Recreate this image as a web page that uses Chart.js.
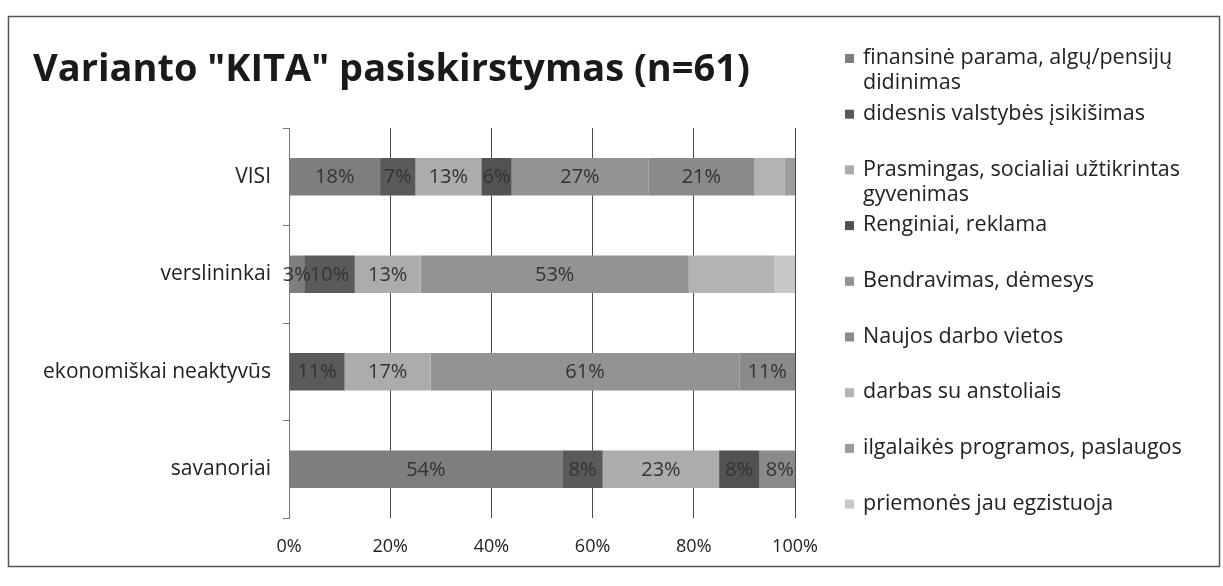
<!DOCTYPE html>
<html>
<head>
<meta charset="utf-8">
<script src="https://cdn.jsdelivr.net/npm/chart.js@4.4.0/dist/chart.umd.min.js"></script>
<style>
  html, body { margin: 0; padding: 0; background: #fff; }
  #wrap { width: 1223px; height: 586px; position: relative; }
</style>
</head>
<body>
<div id="wrap"><canvas id="kitaChart"></canvas></div>
<script>
// Kategorijos (iš viršaus į apačią)
const categories = ['VISI', 'verslininkai', 'ekonomiškai neaktyvūs', 'savanoriai'];

// Serijų pavadinimai (legenda)
const seriesNames = [
    'finansinė parama, algų/pensijų didinimas',
    'didesnis valstybės įsikišimas',
    'Prasmingas, socialiai užtikrintas gyvenimas',
    'Renginiai, reklama',
    'Bendravimas, dėmesys',
    'Naujos darbo vietos',
    'darbas su anstoliais',
    'ilgalaikės programos, paslaugos',
    'priemonės jau egzistuoja'
];

// Reikšmės procentais
const finansine   = [18, 3, 0, 54];
const valstybes   = [7, 10, 11, 8];
const prasmingas  = [13, 13, 17, 23];
const renginiai   = [6, 0, 0, 8];
const bendravimas = [27, 53, 61, 0];
const darboVietos = [21, 0, 11, 8];
const anstoliai   = [6, 17, 0, 0];
const programos   = [2, 0, 0, 0];
const priemones   = [0, 4, 0, 0];

// x ašies žymės
const tickValues = [0, 20, 40, 60, 80, 100];

const seriesValues = [finansine, valstybes, prasmingas, renginiai, bendravimas, darboVietos, anstoliai, programos, priemones];
const seriesColors = ['#7e7e7e', '#5a5a5a', '#acacac', '#525252', '#939393', '#8a8a8a', '#b3b3b3', '#9c9c9c', '#c8c8c8'];
const labelledSeries = 6; // etiketės rodomos tik pirmoms 6 serijoms

const FONT = "'Open Sans', 'Noto Sans', sans-serif";

// Rėmelis, pavadinimas ir legenda
const decorPlugin = {
    id: 'decor',
    beforeDraw(chart) {
        const c = chart.ctx;
        c.save();
        c.fillStyle = '#ffffff';
        c.fillRect(0, 0, chart.width, chart.height);
        c.restore();
    },
    afterDraw(chart) {
        const c = chart.ctx;
        c.save();
        // rėmelis
        c.strokeStyle = '#555';
        c.lineWidth = 1.5;
        c.strokeRect(8.5, 16.5, 1211, 550);
        // pavadinimas
        c.fillStyle = '#1a1a1a';
        c.font = "bold 38px " + FONT;
        c.textBaseline = 'middle';
        c.fillText('Varianto "KITA" pasiskirstymas (n=61)', 33, 70);
        // legenda
        c.font = "21.5px " + FONT;
        const maxW = 335;
        seriesNames.forEach((name, i) => {
            const y = 58 + i * 55.7;
            c.fillStyle = seriesColors[i];
            c.fillRect(845, y - 4, 9, 9);
            c.fillStyle = '#222';
            // eilučių laužymas
            const words = name.split(' ');
            let line = '', lines = [];
            words.forEach(w => {
                const test = line ? line + ' ' + w : w;
                if (c.measureText(test).width > maxW && line) { lines.push(line); line = w; }
                else line = test;
            });
            lines.push(line);
            lines.forEach((l, k) => c.fillText(l, 863, y + k * 25));
        });
        c.restore();
    }
};

// Reikšmių etiketės ant juostų
const valueLabels = {
    id: 'valueLabels',
    afterDatasetsDraw(chart) {
        const c = chart.ctx;
        c.save();
        c.font = "20px " + FONT;
        c.fillStyle = '#333';
        c.textAlign = 'center';
        c.textBaseline = 'middle';
        chart.data.datasets.forEach((ds, di) => {
            if (di >= labelledSeries) return;
            chart.getDatasetMeta(di).data.forEach((bar, i) => {
                const v = ds.data[i];
                if (!v) return;
                c.fillText(v + '%', (bar.x + bar.base) / 2, bar.y + 1);
            });
        });
        c.restore();
    }
};

const ctx = document.getElementById('kitaChart').getContext('2d');
const kitaChart = new Chart(ctx, {
    type: 'bar',
    data: {
        labels: categories,
        datasets: seriesNames.map((name, i) => ({
            label: name,
            data: seriesValues[i],
            backgroundColor: seriesColors[i],
            borderWidth: 0,
            barPercentage: 0.8,
            categoryPercentage: 0.48
        }))
    },
    options: {
        indexAxis: 'y',
        responsive: true,
        maintainAspectRatio: false,
        animation: false,
        layout: { padding: { top: 128, left: 0, right: 428, bottom: 0 } },
        plugins: {
            legend: { display: false },
            tooltip: { enabled: false }
        },
        scales: {
            x: {
                stacked: true,
                min: 0,
                max: 100,
                afterBuildTicks(scale) { scale.ticks = tickValues.map(v => ({ value: v })); },
                afterFit(scale) { scale.height = 586 - 518; },
                ticks: {
                    callback: v => v + '%',
                    color: '#222',
                    font: { family: FONT, size: 18 },
                    padding: 18
                },
                grid: { color: '#4a4a4a', lineWidth: 1, drawTicks: false },
                border: { display: false }
            },
            y: {
                stacked: true,
                afterFit(scale) { scale.width = 289; },
                ticks: {
                    color: '#222',
                    font: { family: FONT, size: 21 },
                    padding: 12
                },
                grid: { drawOnChartArea: false, color: '#777', tickLength: 6, offset: true },
                border: { color: '#777', width: 1 }
            }
        }
    },
    plugins: [decorPlugin, valueLabels]
});
</script>
</body>
</html>
